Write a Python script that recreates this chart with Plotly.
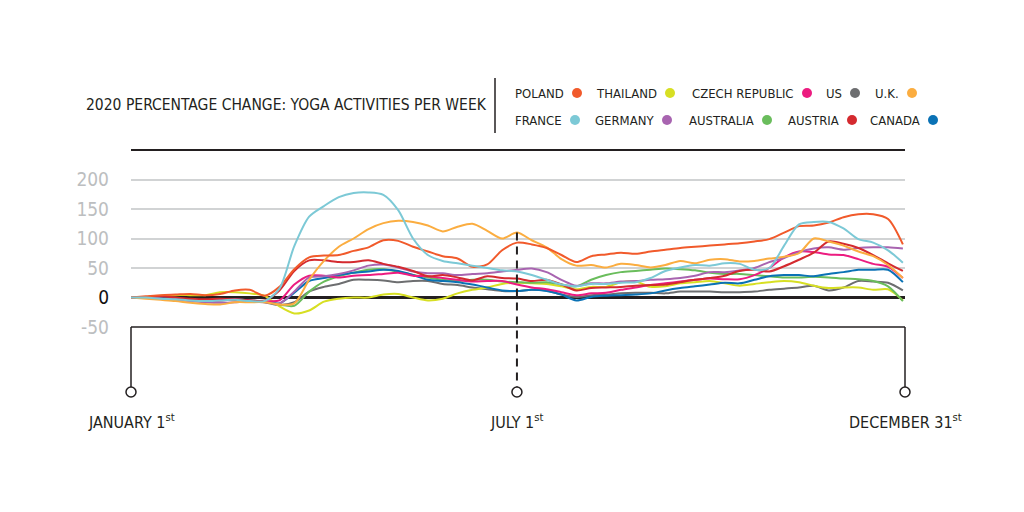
import datetime as dt
import plotly.graph_objects as go

# ---------------- data ----------------
weeks = list(range(53))
start_date = dt.date(2020, 1, 1)
dates = [start_date + dt.timedelta(days=7 * w) for w in weeks]

names = ["POLAND", "THAILAND", "CZECH REPUBLIC", "US", "U.K.",
         "FRANCE", "GERMANY", "AUSTRALIA", "AUSTRIA", "CANADA"]
colors = ["#f15a2b", "#d7df23", "#ec1c80", "#6d6e70", "#fbad40",
          "#7cc9d6", "#a864b0", "#6abd5c", "#d42a2f", "#0a72b5"]

poland = [0,2,4,5,6,4,6,12,13,3, 18,48,68,71,72,79,85,97,96,86,
          78,70,66,52,56,80,93,90,84,72, 60,70,73,76,74,78,81,84,86,88,
          90,92,95,99,110,121,122,127,136,141, 141,133,90]
thailand = [0,1,3,4,4,4,9,9,7,3, -15,-27,-22,-7,-2,0,0,5,6,0,
            -5,-2,7,13,17,23,25,24,23,19, 14,18,18,26,27,18,19,24,26,28,
            24,20,23,26,28,26,20,16,17,17, 13,14,-5]
czech = [0,0,-2,-3,-5,-6,-5,-3,-5,-6, -5,22,37,37,34,37,38,40,42,37,
         36,33,30,27,28,28,22,17,14,9, 4,7,8,13,17,21,24,27,30,32,
         31,31,38,50,68,78,77,73,72,65, 57,52,33]
us = [0,0,-1,-2,-4,-6,-5,-4,-6,-8, -13,-8,10,18,23,30,30,29,26,28,
      28,23,21,17,14,11,11,13,12,5, 1,4,5,7,8,8,7,10,10,10,
      9,9,10,13,15,17,20,12,17,28, 27,25,12]
uk = [0,-2,-4,-6,-9,-11,-12,-8,-8,-8, -12,-10,30,62,86,100,116,126,130,128,
      122,112,120,125,113,100,110,97,85,65, 54,55,51,57,55,51,55,62,58,64,
      65,61,62,66,69,75,100,95,88,78, 70,55,33]
france = [0,0,-2,-3,-5,-6,-5,-4,-6,-6, 15,87,137,155,170,177,178,174,148,100,
          72,62,58,54,50,46,44,38,30,22, 19,23,23,25,26,33,45,51,55,54,
          58,57,47,50,88,124,128,128,117,99, 93,80,59]
germany = [0,0,-2,-4,-6,-8,-9,-8,-7,-8, -10,10,34,36,40,46,54,56,51,44,
           41,41,38,40,41,44,47,49,43,30, 20,24,24,27,28,30,31,33,37,43,
           43,46,50,60,67,77,83,85,81,84, 85,85,83]
australia = [0,0,-1,-3,-4,-5,-4,-3,-5,-7, -12,-14,10,27,36,42,47,48,44,38,
             34,30,28,30,30,27,26,25,26,22, 19,30,38,43,45,47,49,48,46,42,
             40,40,38,36,34,34,35,34,32,31, 28,19,-6]
austria = [0,1,2,0,-2,-3,-2,-3,-5,-5, 12,45,63,63,60,60,63,57,52,45,
           36,38,34,29,36,33,32,28,30,22, 12,16,17,18,20,21,22,26,30,33,
           37,45,47,44,53,64,76,95,91,84, 72,58,45]
canada = [0,0,-1,-2,-4,-5,-4,-3,-5,-7, -10,8,28,33,38,42,44,47,45,38,
          30,28,26,22,17,12,11,13,11,5, -5,1,3,4,5,7,12,16,19,22,
          25,24,30,36,38,38,36,40,43,47, 47,47,26]

series = [poland, thailand, czech, us, uk, france, germany, australia, austria, canada]

y_ticks = [-50, 0, 50, 100, 150, 200]
y_tick_labels = ["-50", "<span style='color:#111111'>0</span>", "50", "100", "150", "200"]

x_start, x_end = "2020-01-01", "2020-12-31"
mid_date = "2020-07-01"
mid_marker_value = 110
date_labels = ["JANUARY 1<sup>st</sup>", "JULY 1<sup>st</sup>", "DECEMBER 31<sup>st</sup>"]
title_text = "2020 PERCENTAGE CHANGE: YOGA ACTIVITIES PER WEEK"

# ---------------- layout helpers ----------------
# the page body adds an 8px offset, so the figure is 8px smaller than the window
OFF = 8
W, H = 1024 - OFF, 512 - OFF
L, R, T, B = 131 - OFF, 119, 150 - OFF, 185
PW, PH = W - L - R, H - T - B
Y_MIN, Y_MAX = -50, 250
FONT = "Liberation Sans Narrow, DejaVu Sans Condensed, Roboto Condensed, Arial Narrow, Roboto, sans-serif"


def px_x(px):
    # px measured in the window
    return (px - OFF - L) / PW


def px_y(py):
    return (H - B - (py - OFF)) / PH


def val_y(v):
    return (v - Y_MIN) / (Y_MAX - Y_MIN)


fig = go.Figure()

draw_order = [3, 1, 7, 9, 2, 6, 8, 4, 0, 5]
for i in draw_order:
    fig.add_trace(go.Scatter(
        x=dates, y=series[i], mode="lines", name=names[i],
        line=dict(color=colors[i], width=2, shape="spline", smoothing=0.8),
        hoverinfo="skip", showlegend=False,
    ))

shapes = []
shapes.append(dict(type="line", xref="paper", yref="paper", x0=0, x1=1, y0=1, y1=1,
                   line=dict(color="#231f20", width=2)))
shapes.append(dict(type="line", xref="paper", yref="paper", x0=0, x1=1, y0=0, y1=0,
                   line=dict(color="#231f20", width=1.5), layer="above"))
circ_y = px_y(392)
circ_top = px_y(387)
for xp in (0, 1):
    shapes.append(dict(type="line", xref="paper", yref="paper", x0=xp, x1=xp, y0=0, y1=circ_top,
                       line=dict(color="#231f20", width=1.5)))
    shapes.append(dict(type="circle", xref="paper", yref="paper", xsizemode="pixel", ysizemode="pixel",
                       xanchor=xp, yanchor=circ_y, x0=-5, x1=5, y0=-5, y1=5,
                       line=dict(color="#231f20", width=1.5), fillcolor="white"))
shapes.append(dict(type="line", xref="x", yref="paper", x0=mid_date, x1=mid_date,
                   y0=val_y(mid_marker_value), y1=circ_top,
                   line=dict(color="#231f20", width=2, dash="8px,6px"), layer="above"))
shapes.append(dict(type="circle", xref="x", yref="paper", xsizemode="pixel", ysizemode="pixel",
                   xanchor=mid_date, yanchor=circ_y, x0=-5, x1=5, y0=-5, y1=5,
                   line=dict(color="#231f20", width=1.5), fillcolor="white"))
shapes.append(dict(type="line", xref="paper", yref="paper", x0=px_x(495), x1=px_x(495),
                   y0=px_y(78), y1=px_y(133), line=dict(color="#231f20", width=1.5)))

annotations = []
annotations.append(dict(text=title_text, xref="paper", yref="paper", x=px_x(84), y=px_y(105),
                        xanchor="left", yanchor="middle", showarrow=False,
                        font=dict(family=FONT, size=15.5, color="#231f20")))

legend_dot_px = [(577, 93), (670, 93), (807, 93), (855, 93), (912, 93),
                 (575, 120), (667, 120), (767, 120), (852, 120), (933, 120)]
for i, (dx, dy) in enumerate(legend_dot_px):
    annotations.append(dict(text=names[i], xref="paper", yref="paper", x=px_x(dx - 11), y=px_y(dy),
                            xanchor="right", yanchor="middle", showarrow=False,
                            font=dict(family=FONT, size=13, color="#231f20")))
    shapes.append(dict(type="circle", xref="paper", yref="paper", xsizemode="pixel", ysizemode="pixel",
                       xanchor=px_x(dx), yanchor=px_y(dy), x0=-5, x1=5, y0=-5, y1=5,
                       line=dict(width=0), fillcolor=colors[i]))

label_y = px_y(421)
for xr, xv, txt in [("paper", 0, date_labels[0]), ("x", mid_date, date_labels[1]), ("paper", 1, date_labels[2])]:
    annotations.append(dict(text=txt, xref=xr, yref="paper", x=xv, y=label_y,
                            xanchor="center", yanchor="middle", showarrow=False,
                            font=dict(family=FONT, size=16, color="#231f20")))

fig.update_layout(
    width=W, height=H,
    margin=dict(l=L, r=R, t=T, b=B, pad=0),
    paper_bgcolor="white", plot_bgcolor="white",
    font=dict(family=FONT),
    shapes=shapes, annotations=annotations,
    xaxis=dict(type="date", range=[x_start, x_end], visible=False, showgrid=False, zeroline=False),
    yaxis=dict(range=[Y_MIN, Y_MAX], tickvals=y_ticks, ticktext=y_tick_labels,
               tickfont=dict(family=FONT, size=19, color="#bcbec0"),
               showgrid=True, gridcolor="#d1d3d4", gridwidth=1.5,
               zeroline=True, zerolinecolor="#231f20", zerolinewidth=2.5,
               showline=False, ticks="", ticklabelstandoff=21, fixedrange=True),
    showlegend=False,
)

fig.write_html("out.html", include_plotlyjs=True)
